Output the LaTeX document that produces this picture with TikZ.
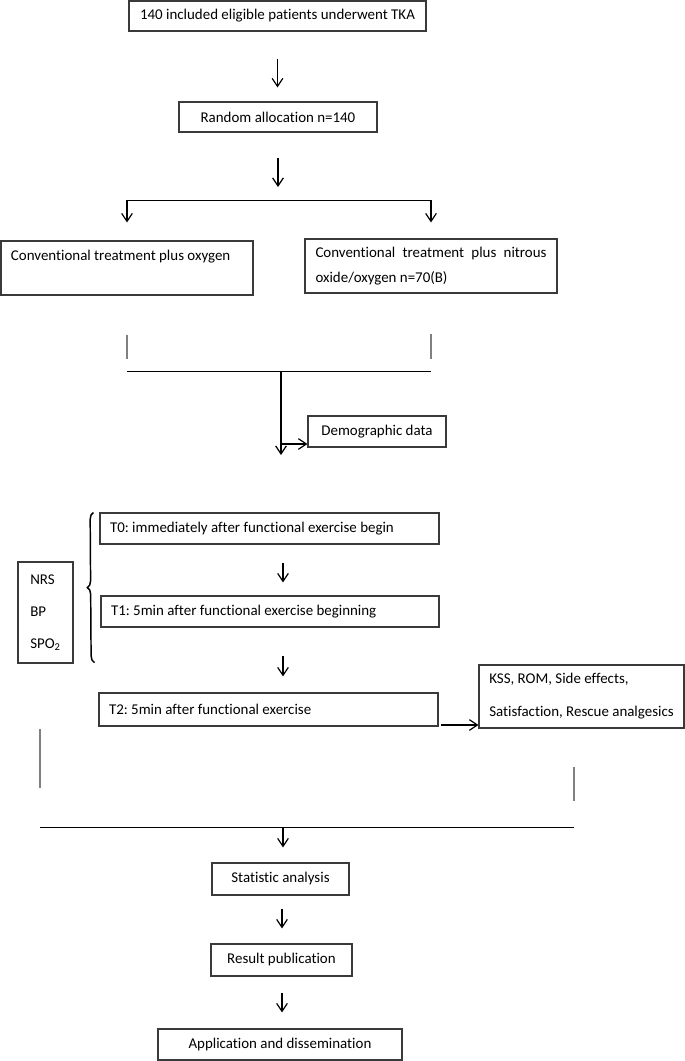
\documentclass[tikz,border=0pt]{standalone}
\usepackage{fontspec}
\setmainfont{Carlito}[Ligatures=NoCommon]
\usetikzlibrary{arrows.meta,decorations.pathreplacing,calc}
\definecolor{boxc}{HTML}{3A3A3A}
\definecolor{tickc}{HTML}{808080}
\newcommand{\normsp}{\spaceskip=0pt\xspaceskip=0pt\relax\frenchspacing\ignorespaces}
\begin{document}
\frenchspacing
\begin{tikzpicture}[x=0.75pt,y=-0.75pt,
  box/.style={draw=boxc, line width=0.8pt, inner sep=0pt, font=\fontsize{11.2}{13.4}\selectfont},
  lbox/.style={align=flush left, inner xsep=7.5pt},
  arr/.style={draw=black, line width=0.9pt, -{Straight Barb[length=6pt,width=8pt,line width=0.9pt]}},
  ln/.style={draw=black, line width=0.75pt},
  tick/.style={draw=tickc, line width=0.8pt},
  bracestyle/.style={draw=black, line width=1.1pt, decorate, decoration={brace, amplitude=5pt}}]
\useasboundingbox (0,0) rectangle (685,1061);

% nodes
\node[box, minimum width=222.75pt, minimum height=22.5pt] (A) at (277.5,16) {140 included eligible patients underwent TKA};
\node[box, minimum width=148.5pt, minimum height=22.5pt] (B) at (278,117) {Random allocation n=140};
\node[box, lbox, minimum width=189pt, minimum height=40.5pt, text width=174pt, font=\fontsize{11.2}{18.75}\selectfont] (C) at (127,268) {\normsp Conventional treatment plus oxygen\\\mbox{}};
\node[box, lbox, minimum width=189pt, minimum height=40.5pt, text width=173.25pt, font=\fontsize{11.2}{18.75}\selectfont] (D) at (431,266) {\normsp Conventional\hfill treatment\hfill plus\hfill nitrous\\oxide/oxygen n=70(B)};
\node[box, minimum width=103.5pt, minimum height=23.25pt] (Demo) at (377,431.5) {Demographic data};
\node[box, lbox, minimum width=254.25pt, minimum height=23.25pt, text width=239.25pt] (T0) at (269.5,528.5) {\normsp T0: immediately after functional exercise begin};
\node[box, lbox, minimum width=253.5pt, minimum height=23.25pt, text width=238.5pt] (T1) at (270,611.5) {\normsp T1: 5min after functional exercise beginning};
\node[box, lbox, minimum width=254.25pt, minimum height=24.75pt, text width=239.25pt] (T2) at (268.5,709.5) {\normsp T2: 5min after functional exercise};
\node[box, align=flush left, minimum width=153.75pt, minimum height=47.25pt, font=\fontsize{11.2}{24.75}\selectfont] (K) at (581.5,696.5) {\normsp KSS, ROM, Side effects,\\Satisfaction, Rescue analgesics};
\node[box, align=flush left, minimum width=41.25pt, minimum height=75.75pt, font=\fontsize{11.2}{24}\selectfont] (N) at (45.5,612.5) {NRS\\BP\\SPO\textsubscript{2}};
\node[box, minimum width=102.75pt, minimum height=24pt] (S) at (280.5,879) {Statistic analysis};
\node[box, minimum width=105.75pt, minimum height=24pt] (R) at (281.5,960) {Result publication};
\node[box, minimum width=183pt, minimum height=23.25pt] (P) at (280,1044.5) {Application and dissemination};

% helper coordinates
\coordinate (bl) at (126.5,200);
\coordinate (m1) at (281,371);
\coordinate (m2) at (281,455);
\coordinate (md) at (281,444);
\coordinate (col) at (283,0);
\coordinate (col2) at (282,0);
\coordinate (k1) at (441,725);
\coordinate (h1) at (283,827);
\coordinate (hl) at (40,827);
\coordinate (hr) at (574,827);

% top connectors
\draw[arr, shorten <=20.25pt, shorten >=10.5pt] (A.south) -- (A.south |- B.north);
\draw[arr, shorten <=18.75pt, shorten >=9.75pt] (B.south) -- (B.south |- bl);
\draw[ln] (C.north |- bl) -- (D.north |- bl);
\draw[arr, shorten >=13.5pt] (C.north |- bl) -- (C.north);
\draw[arr, shorten >=12pt] (D.north |- bl) -- (D.north);

% grey ticks under groups and joining line
\draw[tick] ($(C.south)+(0,39)$) -- ++(0,24);
\draw[tick] ($(D.south)+(0,40)$) -- ++(0,25);
\draw[ln] (C.south |- m1) -- (D.south |- m1);
\draw[arr] (m1) -- (m2);
\draw[arr] (md) -- (md -| Demo.west);

% timeline
\draw[arr, shorten <=13.5pt, shorten >=9.75pt] (T0.south -| col) -- (T1.north -| col);
\draw[arr, shorten <=21pt, shorten >=12pt] (T1.south -| col) -- (T2.north -| col);
\draw[arr] (k1) -- (k1 -| K.west);
\draw[bracestyle] ($(T1.south west)+(-6,35)$) -- ($(T0.north west)+(-6,0)$);

% lower joining lines
\draw[tick] (40,729) -- (40,788);
\draw[tick] (574,767) -- (574,801);
\draw[ln] (hl) -- (hr);
\draw[arr, shorten >=11.25pt] (h1) -- (S.north -| h1);
\draw[arr, shorten <=9.75pt, shorten >=11.25pt] (S.south -| col2) -- (R.north -| col2);
\draw[arr, shorten <=12pt, shorten >=12pt] (R.south -| col2) -- (P.north -| col2);
\end{tikzpicture}
\end{document}
